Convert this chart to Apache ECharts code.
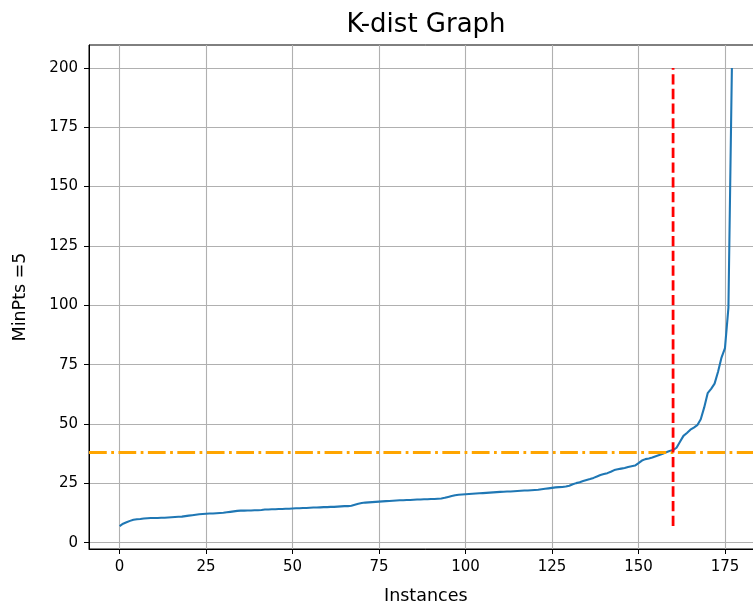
<!DOCTYPE html>
<html>
<head>
<meta charset="utf-8">
<script src="https://cdn.jsdelivr.net/npm/echarts@6/dist/echarts.min.js"></script>
<style>html,body{margin:0;padding:0;background:#fff;width:753px;height:602px;overflow:hidden}#c{width:764px;height:602px}</style>
</head>
<body>
<div id="c"></div>
<script>
// sorted k-distances (MinPts = 5), one per instance index 0..177
const kDist = [
  7.0, 8.0, 8.6, 9.2, 9.7, 9.9, 10.0, 10.2, 10.3, 10.4,
  10.4, 10.4, 10.5, 10.5, 10.6, 10.7, 10.8, 10.9, 11.0, 11.2,
  11.4, 11.6, 11.8, 12.0, 12.1, 12.2, 12.3, 12.3, 12.4, 12.5,
  12.6, 12.8, 13.0, 13.2, 13.4, 13.5, 13.5, 13.6, 13.6, 13.7,
  13.7, 13.8, 14.0, 14.0, 14.1, 14.1, 14.2, 14.2, 14.3, 14.3,
  14.4, 14.5, 14.5, 14.6, 14.6, 14.7, 14.8, 14.8, 14.9, 15.0,
  15.0, 15.1, 15.1, 15.2, 15.3, 15.4, 15.4, 15.6, 16.0, 16.4,
  16.7, 16.9, 17.0, 17.1, 17.2, 17.3, 17.4, 17.5, 17.6, 17.7,
  17.8, 17.9, 17.9, 18.0, 18.0, 18.1, 18.2, 18.2, 18.3, 18.3,
  18.4, 18.4, 18.5, 18.6, 18.9, 19.3, 19.7, 20.0, 20.2, 20.3,
  20.4, 20.5, 20.6, 20.7, 20.8, 20.9, 21.0, 21.1, 21.2, 21.3,
  21.4, 21.5, 21.6, 21.6, 21.7, 21.8, 21.9, 22.0, 22.0, 22.1,
  22.2, 22.3, 22.5, 22.7, 22.9, 23.1, 23.3, 23.4, 23.5, 23.7,
  24.0, 24.6, 25.1, 25.5, 26.0, 26.4, 26.8, 27.3, 27.9, 28.5,
  28.9, 29.3, 29.9, 30.6, 30.9, 31.2, 31.5, 31.9, 32.2, 32.5,
  33.5, 34.6, 35.2, 35.5, 35.9, 36.4, 36.9, 37.5, 38.1, 38.6,
  39.0, 40.0, 42.5, 45.0, 46.2, 47.6, 48.5, 49.5, 52.0, 57.0,
  63.0, 64.8, 67.0, 72.0, 78.0, 82.0, 99.0, 200.0
];
const xTicks = [0, 25, 50, 75, 100, 125, 150, 175];
const yTicks = [0, 25, 50, 75, 100, 125, 150, 175, 200];
const epsValue = 38;          // horizontal threshold line
const kneeIndex = 160;        // vertical knee line
const kneeRange = [7, 200];   // vertical line extent

const n = kDist.length;
const xMin = -0.05 * (n - 1), xMax = (n - 1) * 1.05;
const yLo = Math.min(...kDist), yHi = Math.max(...kDist);
const yMin = yLo - 0.05 * (yHi - yLo), yMax = yHi + 0.05 * (yHi - yLo);

const chart = echarts.init(document.getElementById('c'), null, {renderer: 'canvas'});
const font = 'DejaVu Sans';
const pt = 100 / 72;
chart.setOption({
  animation: false,
  backgroundColor: '#fff',
  title: {
    text: 'K-dist Graph', left: 421, top: 7, textAlign: 'center',
    textStyle: {fontFamily: font, fontSize: 26, fontWeight: 'normal', color: '#000'}
  },
  grid: {left: 89, top: 45, right: 1.5, bottom: 53, outerBoundsMode: 'none', containLabel: false,
         show: true, borderColor: '#000', borderWidth: 1},
  xAxis: {
    type: 'value', min: xMin, max: xMax,
    name: 'Instances', nameLocation: 'middle', nameGap: 38,
    nameTextStyle: {fontFamily: font, fontSize: 17.5, color: '#000'},
    axisLine: {show: true, onZero: false, lineStyle: {color: '#000', width: 1}},
    axisTick: {show: true, length: 5, customValues: xTicks, lineStyle: {color: '#000', width: 1}},
    axisLabel: {customValues: xTicks, margin: 11, fontFamily: font, fontSize: 15, color: '#000'},
    splitLine: {show: true, lineStyle: {color: '#b0b0b0', width: 1.1}}
  },
  yAxis: {
    type: 'value', min: yMin, max: yMax,
    name: 'MinPts =5', nameLocation: 'middle', nameGap: 60,
    nameTextStyle: {fontFamily: font, fontSize: 17.5, color: '#000'},
    axisLine: {show: true, onZero: false, lineStyle: {color: '#000', width: 1}},
    axisTick: {show: true, length: 5, customValues: yTicks, lineStyle: {color: '#000', width: 1}},
    axisLabel: {customValues: yTicks, margin: 11, fontFamily: font, fontSize: 15, color: '#000'},
    splitLine: {show: true, lineStyle: {color: '#b0b0b0', width: 1.1}}
  },
  series: [
    {
      type: 'line', data: kDist.map((v, i) => [i, v]), showSymbol: false, symbol: 'none',
      lineStyle: {color: '#1f77b4', width: 1.5 * pt}, z: 3
    },
    {
      type: 'line', data: [], z: 4, silent: true,
      markLine: {
        silent: true, symbol: 'none', label: {show: false}, animation: false,
        lineStyle: {color: '#ffa500', width: 2 * pt, type: [6.4 * 2 * pt, 1.6 * 2 * pt, 1 * 2 * pt, 1.6 * 2 * pt]},
        data: [{yAxis: epsValue}]
      }
    },
    {
      type: 'line', data: [[kneeIndex, kneeRange[0]], [kneeIndex, kneeRange[1]]], z: 5, silent: true,
      showSymbol: false, symbol: 'none',
      lineStyle: {color: '#ff0000', width: 2 * pt, type: [3.7 * 2 * pt, 1.6 * 2 * pt]}
    }
  ]
});
</script>
</body>
</html>
